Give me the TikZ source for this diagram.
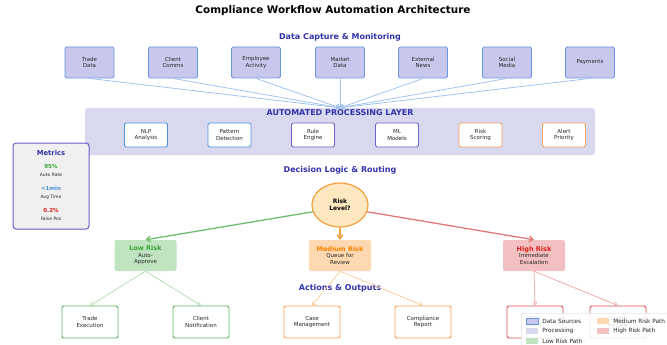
\documentclass[tikz,border=0pt]{standalone}
\usepackage{fontspec}
\setmainfont{DejaVu Sans}
\usetikzlibrary{arrows.meta,shapes.geometric,positioning}

\definecolor{hdblue}{RGB}{50,50,170}
\definecolor{srcfill}{RGB}{200,200,236}
\definecolor{srcline}{RGB}{106,150,224}
\definecolor{srcarrow}{RGB}{160,196,238}
\definecolor{procfill}{RGB}{216,216,238}
\definecolor{procblue}{RGB}{74,144,217}
\definecolor{procpurple}{RGB}{112,96,192}
\definecolor{procorange}{RGB}{244,164,96}
\definecolor{lowfill}{RGB}{192,228,192}
\definecolor{lowtext}{RGB}{50,165,50}
\definecolor{lowline}{RGB}{90,180,90}
\definecolor{lowarrow}{RGB}{110,190,110}
\definecolor{lowpale}{RGB}{182,222,182}
\definecolor{medfill}{RGB}{253,216,176}
\definecolor{medtext}{RGB}{255,128,0}
\definecolor{medline}{RGB}{250,160,80}
\definecolor{medpale}{RGB}{252,205,160}
\definecolor{highfill}{RGB}{242,192,192}
\definecolor{hightext}{RGB}{220,30,30}
\definecolor{highline}{RGB}{220,80,80}
\definecolor{higharrow}{RGB}{228,120,120}
\definecolor{highpale}{RGB}{240,170,170}
\definecolor{qfill}{RGB}{253,232,192}
\definecolor{qline}{RGB}{245,160,64}
\definecolor{metfill}{RGB}{240,240,240}
\definecolor{metline}{RGB}{106,90,205}

\tikzset{
  tinytext/.style={font=\fontsize{5.5}{6.6}\selectfont, text=black!85},
  header/.style={font=\fontsize{8}{9.6}\selectfont\bfseries, text=hdblue},
  srcbox/.style={tinytext, draw=srcline, fill=srcfill, line width=0.9pt,
    rounded corners=1.5pt, minimum width=49pt, minimum height=31pt, align=center},
  procbox/.style={tinytext, fill=white, line width=0.9pt,
    rounded corners=1.5pt, minimum width=43pt, minimum height=24pt, align=center},
  riskbox/.style={tinytext, draw=none, rounded corners=2pt,
    minimum width=62pt, minimum height=31pt, align=center, inner sep=1pt},
  outbox/.style={tinytext, fill=white, line width=0.9pt,
    rounded corners=2pt, minimum width=56pt, minimum height=32pt, align=center},
  thinarrow/.style={-{Straight Barb[length=3pt,width=4pt]}, line width=0.8pt},
  boldarrow/.style={-{Straight Barb[length=4pt,width=6pt]}, line width=1.3pt},
  legpatch/.style={minimum width=12pt, minimum height=6pt, inner sep=0pt},
  legtext/.style={font=\fontsize{5.8}{7}\selectfont, text=black!85, inner sep=1pt}
}

\begin{document}
\begin{tikzpicture}[x=1pt,y=-1pt]
  \useasboundingbox (0,0) rectangle (667,345);

  % Title
  \node[font=\fontsize{10.4}{12.5}\selectfont\bfseries] (title) at (333,11)
    {Compliance Workflow Automation Architecture};

  % Data capture row
  \node[header] (capTitle) at (340,37) {Data Capture \& Monitoring};
  \node[srcbox] (srcTrade) at (89.5,62.5) {Trade\\Data};
  \node[srcbox] (srcClient) at (173,62.5) {Client\\Comms};
  \node[srcbox] (srcEmployee) at (256,62.5) {Employee\\Activity};
  \node[srcbox] (srcMarket) at (340,62.5) {Market\\Data};
  \node[srcbox] (srcNews) at (423,62.5) {External\\News};
  \node[srcbox] (srcSocial) at (507,62.5) {Social\\Media};
  \node[srcbox] (srcPay) at (590,62.5) {Payments};

  % Processing layer panel
  \node[fill=procfill, rounded corners=3pt, minimum width=510pt,
    minimum height=47pt] (procLayer) at (340,131.5) {};
  \node[header] (procTitle) at (340,113) {AUTOMATED PROCESSING LAYER};
  \node[procbox, draw=procblue] (procNLP) at (146,135) {NLP\\Analysis};
  \node[procbox, draw=procblue] (procPattern) at (229.5,135) {Pattern\\Detection};
  \node[procbox, draw=procpurple] (procRule) at (313,135) {Rule\\Engine};
  \node[procbox, draw=procpurple] (procML) at (397,135) {ML\\Models};
  \node[procbox, draw=procorange] (procScore) at (480.5,135) {Risk\\Scoring};
  \node[procbox, draw=procorange] (procAlert) at (564,135) {Alert\\Priority};

  % sources feed into the layer
  \coordinate (hub) at (procLayer.north);
  \foreach \src in {srcTrade,srcClient,srcEmployee,srcMarket,srcNews,srcSocial,srcPay}
    \draw[thinarrow, srcarrow] (\src.south) -- (hub);

  % Metrics panel
  \node[draw=metline, fill=metfill, line width=1pt, rounded corners=3pt,
    minimum width=76pt, minimum height=86pt] (metrics) at (51,186) {};
  \node[font=\fontsize{6.8}{8}\selectfont\bfseries, text=hdblue] (metTitle) at (51,153) {Metrics};
  \node[font=\fontsize{5.5}{6.6}\selectfont\bfseries, text=lowtext] (metAuto) at (51,166) {95\%};
  \node[tinytext, font=\fontsize{4.5}{5.4}\selectfont] (metAutoLbl) at (51,175) {Auto Rate};
  \node[font=\fontsize{5.5}{6.6}\selectfont\bfseries, text=procblue] (metTime) at (51,188) {<1min};
  \node[tinytext, font=\fontsize{4.5}{5.4}\selectfont] (metTimeLbl) at (51,197) {Avg Time};
  \node[font=\fontsize{5.5}{6.6}\selectfont\bfseries, text=hightext] (metFalse) at (51,210) {0.2\%};
  \node[tinytext, font=\fontsize{4.5}{5.4}\selectfont] (metFalseLbl) at (51,219) {False Pos};

  % Decision logic
  \node[header] (decTitle) at (340,170) {Decision Logic \& Routing};
  \node[ellipse, draw=qline, fill=qfill, line width=1.2pt, minimum width=56pt,
    minimum height=44pt, align=center, font=\fontsize{6}{7.2}\selectfont\bfseries]
    (riskQ) at (340,205) {Risk\\Level?};

  \node[riskbox, fill=lowfill] (lowRisk) at (145.5,255.5)
    {\textcolor{lowtext}{\fontsize{6.5}{7.2}\selectfont\bfseries Low Risk}\\Auto-\\Approve};
  \node[riskbox, fill=medfill] (medRisk) at (340,255.5)
    {\textcolor{medtext}{\fontsize{6.5}{7.2}\selectfont\bfseries Medium Risk}\\Queue for\\Review};
  \node[riskbox, fill=highfill] (highRisk) at (534,255.5)
    {\textcolor{hightext}{\fontsize{6.5}{7.2}\selectfont\bfseries High Risk}\\Immediate\\Escalation};

  \draw[boldarrow, lowarrow] (riskQ.194) -- (lowRisk.north);
  \draw[boldarrow, qline] (riskQ.south) -- (medRisk.north);
  \draw[boldarrow, higharrow] (riskQ.-14) -- (highRisk.north);

  % Actions and outputs
  \node[header] (actTitle) at (340,288) {Actions \& Outputs};
  \node[outbox, draw=lowline] (tradeExec) at (90,322) {Trade\\Execution};
  \node[outbox, draw=lowline] (clientNote) at (201,322) {Client\\Notification};
  \node[outbox, draw=medline] (caseMgmt) at (312,322) {Case\\Management};
  \node[outbox, draw=medline] (compReport) at (423,322) {Compliance\\Report};
  \node[outbox, draw=highline] (sarFiling) at (535,322) {SAR\\Filing};
  \node[outbox, draw=highline] (legalRev) at (618,322) {Legal\\Review};

  \draw[thinarrow, lowpale] (lowRisk.south) -- (tradeExec.north);
  \draw[thinarrow, lowpale] (lowRisk.south) -- (clientNote.north);
  \draw[thinarrow, medpale] (medRisk.south) -- (caseMgmt.north);
  \draw[thinarrow, medpale] (medRisk.south) -- (compReport.north);
  \draw[thinarrow, highpale] (highRisk.south) -- (sarFiling.north);
  \draw[thinarrow, highpale] (highRisk.south) -- (legalRev.north);

  % Legend (runs off the lower right corner)
  \node[draw=black!20, fill=white, fill opacity=0.85, rounded corners=2pt,
    anchor=north west, minimum width=160pt, minimum height=40pt] (legend) at (521,313) {};
  \node[legpatch, draw=srcline, fill=srcfill] (legSrc) at (532,321) {};
  \node[legtext, right=3pt of legSrc] (legSrcTxt) {Data Sources};
  \node[legpatch, fill=procfill] (legProc) at (532,331) {};
  \node[legtext, right=3pt of legProc] (legProcTxt) {Processing};
  \node[legpatch, fill=lowfill] (legLow) at (532,341) {};
  \node[legtext, right=3pt of legLow] (legLowTxt) {Low Risk Path};
  \node[legpatch, fill=medfill] (legMed) at (603,321) {};
  \node[legtext, right=3pt of legMed] (legMedTxt) {Medium Risk Path};
  \node[legpatch, fill=highfill] (legHigh) at (603,331) {};
  \node[legtext, right=3pt of legHigh] (legHighTxt) {High Risk Path};
\end{tikzpicture}
\end{document}
